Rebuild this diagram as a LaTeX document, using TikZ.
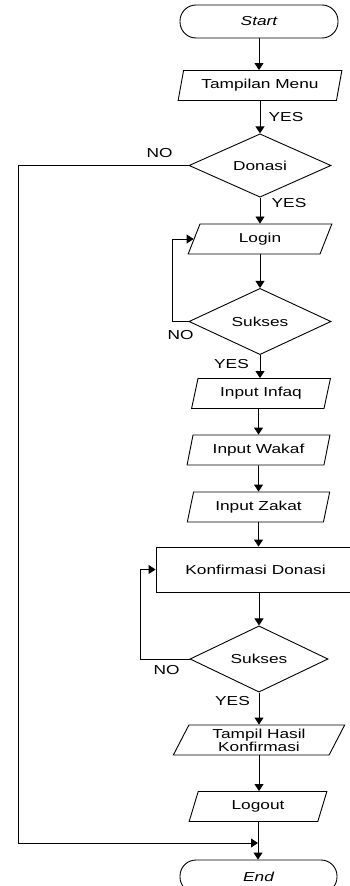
\documentclass[tikz,border=0pt]{standalone}
\usepackage{fontspec}
\setmainfont{Liberation Sans}
\usepackage{graphicx}
\usetikzlibrary{shapes.geometric,arrows.meta}
\newcommand{\wtext}[1]{\scalebox{1.33}[1]{#1}}
\begin{document}
\begin{tikzpicture}[x=1pt,y=-1pt,
  every node/.style={font=\fontsize{13}{13.5}\selectfont, text=black},
  arr/.style={line width=0.9pt,-{Triangle[length=7pt,width=9pt]}},
  term/.style={draw, line width=0.9pt, rectangle, rounded corners=16pt, minimum width=158pt, minimum height=33pt, inner sep=0pt},
  io/.style={draw, line width=0.9pt, trapezium, trapezium left angle=71, trapezium right angle=109, trapezium stretches=true, minimum height=30pt, inner sep=0pt},
  dec/.style={draw, line width=0.9pt, diamond, minimum width=142pt, minimum height=62pt, inner sep=0pt},
  proc/.style={draw, line width=0.9pt, rectangle, minimum width=199pt, minimum height=45pt, inner sep=0pt},
  lbl/.style={inner sep=0pt}
]
\useasboundingbox (0,0) rectangle (350,886);

\node[term] (start) at (259,21.5) {\wtext{\itshape Start}};
\node[io, minimum width=164pt] (menu) at (260,85.5) {\wtext{Tampilan Menu}};
\node[dec] (donasi) at (260,165.5) {\wtext{Donasi}};
\node[io, minimum width=144pt] (login) at (260,239) {\wtext{Login}};
\node[dec] (sukses1) at (260,321.5) {\wtext{Sukses}};
\node[io, minimum width=139pt] (infaq) at (261,393.5) {\wtext{Input Infaq}};
\node[io, minimum width=143pt] (wakaf) at (258.5,450) {\wtext{Input Wakaf}};
\node[io, minimum width=143pt] (zakat) at (258.5,507) {\wtext{Input Zakat}};
\node[proc] (konf) at (255.5,569.5) {\wtext{Konfirmasi Donasi}};
\node[dec, minimum width=138pt] (sukses2) at (259,659) {\wtext{Sukses}};
\node[io, minimum width=172pt] (hasil) at (259,740) {\phantom{Tampil}};
\node[lbl] (hasiltext) at ([yshift=-2.5pt]hasil.center) {\wtext{\begin{tabular}{@{}c@{}}Tampil Hasil\\[-0.5pt]Konfirmasi\end{tabular}}};
\node[io, minimum width=138pt] (logout) at (258,806.5) {\wtext{Logout}};
\node[term, minimum width=157pt] (end) at (258.5,876.5) {\wtext{\itshape End}};

\coordinate (nojoin) at (258,843);
\coordinate (noleft) at (18,843);

\draw[arr] (start.south) -- (start.south |- menu.north);
\draw[arr] (menu.south) -- (menu.south |- donasi.north);
\draw[arr] (donasi.south) -- (donasi.south |- login.north);
\draw[arr] (login.south) -- (login.south |- sukses1.north);
\draw[arr] (sukses1.south) -- (sukses1.south |- infaq.north);
\draw[arr] (wakaf.north |- infaq.south) -- (wakaf.north);
\draw[arr] (wakaf.south) -- (zakat.north);
\draw[arr] (zakat.south) -- (zakat.south |- konf.north);
\draw[arr] (sukses2.north |- konf.south) -- (sukses2.north);
\draw[arr] (sukses2.south) -- (sukses2.south |- hasil.north);
\draw[arr] (hasil.south) -- (hasil.south |- logout.north);
\draw[arr] (logout.south) -- (logout.south |- end.north);

\draw[arr] (sukses1.west) -- ++(-16,0) |- (login.left side);
\draw[arr] (sukses2.west) -- ++(-49,0) |- (konf.west);
\draw[arr] (donasi.west) -| (noleft) -- (nojoin);

\node[lbl] at (286,117) {\wtext{YES}};
\node[lbl] at (289,203) {\wtext{YES}};
\node[lbl] at (231.5,364) {\wtext{YES}};
\node[lbl] at (232.5,701) {\wtext{YES}};
\node[lbl] at (159.5,153) {\wtext{NO}};
\node[lbl] at (180.5,335) {\wtext{NO}};
\node[lbl] at (166.5,670) {\wtext{NO}};
\end{tikzpicture}
\end{document}
